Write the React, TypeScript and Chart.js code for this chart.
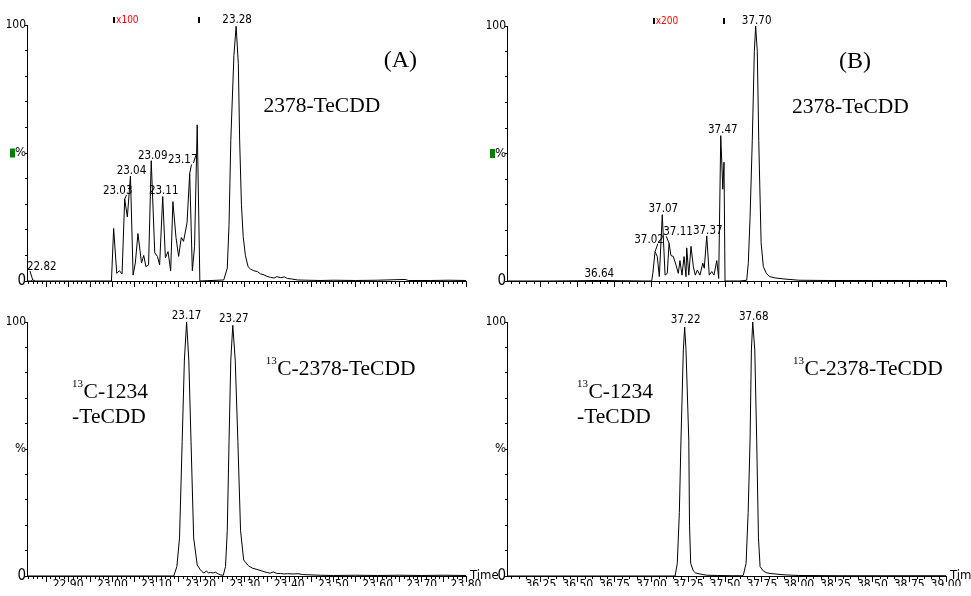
import React, { useEffect, useRef } from 'react';
import { Chart, registerables } from 'chart.js';

Chart.register(...registerables);

// ---------------- DATA ----------------
// Panel (A), upper trace: 2378-TeCDD (window 23.00-23.20 magnified x100)
const timeA1 = [22.807, 22.816, 22.82, 22.826, 22.9, 22.95, 22.998, 23.003, 23.01, 23.016, 23.022, 23.028, 23.034, 23.041, 23.047, 23.052, 23.058, 23.066, 23.071, 23.076, 23.082, 23.088, 23.096, 23.102, 23.107, 23.114, 23.12, 23.126, 23.132, 23.137, 23.144, 23.15, 23.156, 23.161, 23.169, 23.175, 23.181, 23.186, 23.192, 23.198, 23.252, 23.26, 23.264, 23.268, 23.275, 23.28, 23.285, 23.288, 23.292, 23.296, 23.301, 23.307, 23.313, 23.32, 23.328, 23.335, 23.343, 23.35, 23.358, 23.366, 23.372, 23.381, 23.389, 23.396, 23.405, 23.419, 23.44, 23.47, 23.5, 23.55, 23.6, 23.662, 23.67, 23.72, 23.76, 23.8];
const pctA1 = [0, 0, 0.4, 0, 0, 0, 0, 20.5, 3, 4, 2.7, 32, 25, 41, 2.3, 7, 18.5, 7, 10, 5.6, 6.3, 47, 11, 9.6, 6.3, 33, 9, 11.5, 4, 31, 17, 9.6, 17, 15.5, 22.7, 42, 4, 13.5, 61, 0, 0.4, 5, 22, 55, 88, 99.5, 85, 55, 30, 17.4, 10, 5.6, 4.6, 4, 3.7, 2.8, 2.4, 1.8, 1.4, 1.2, 1.7, 1.3, 1.6, 1.0, 0.8, 0.4, 0.3, 0.2, 0.3, 0.2, 0.3, 0.6, 0.2, 0.2, 0.3, 0.2];

// Panel (A), lower trace: 13C-1234-TeCDD and 13C-2378-TeCDD
const timeA2 = [22.807, 22.9, 23.0, 23.1, 23.139, 23.146, 23.152, 23.158, 23.163, 23.168, 23.173, 23.178, 23.184, 23.192, 23.199, 23.203, 23.207, 23.213, 23.217, 23.222, 23.228, 23.233, 23.24, 23.245, 23.251, 23.256, 23.26, 23.264, 23.268, 23.2725, 23.278, 23.284, 23.29, 23.297, 23.308, 23.318, 23.327, 23.338, 23.345, 23.35, 23.357, 23.364, 23.372, 23.38, 23.388, 23.396, 23.41, 23.42, 23.43, 23.44, 23.47, 23.5, 23.55, 23.6, 23.65, 23.7, 23.75, 23.8];
const pctA2 = [0, 0, 0, 0, 0, 3.7, 15, 53, 85, 100, 85, 53, 15, 4.3, 2.5, 1.7, 1.2, 2.0, 1.2, 1.4, 1.2, 1.5, 0.8, 0.4, 0.3, 3.7, 18, 53, 85, 98.7, 85, 53, 18, 6.3, 4, 3, 2.6, 2, 1.6, 1.4, 1.1, 1.6, 1.0, 1.0, 0.8, 0.9, 0.8, 0.9, 0.6, 0.5, 0.3, 0.2, 0.3, 0.2, 0.3, 0.2, 0.3, 0.2];

// Panel (B), upper trace: 2378-TeCDD (window 37.02-37.50 magnified x200)
const timeB1 = [36.02, 36.3, 36.5, 36.64, 36.8, 36.95, 37.002, 37.01, 37.025, 37.04, 37.054, 37.074, 37.093, 37.108, 37.12, 37.133, 37.149, 37.167, 37.183, 37.194, 37.208, 37.222, 37.235, 37.24, 37.254, 37.269, 37.285, 37.298, 37.312, 37.33, 37.349, 37.359, 37.376, 37.393, 37.41, 37.425, 37.444, 37.457, 37.471, 37.485, 37.493, 37.5, 37.6, 37.647, 37.658, 37.67, 37.685, 37.699, 37.708, 37.719, 37.729, 37.745, 37.76, 37.778, 37.79, 37.805, 37.84, 37.873, 37.9, 37.941, 38.0, 38.2, 38.5, 38.8, 39.0];
const pctB1 = [0, 0, 0.1, 0.2, 0.1, 0, 0, 3, 11.5, 9.6, 1.7, 26, 2.3, 3, 14.8, 10, 9.6, 6.3, 3, 8, 2.3, 9.6, 1.7, 13, 2.3, 13.6, 5.6, 2.3, 4.3, 2.3, 7, 5, 17.7, 2.3, 3.7, 2.3, 8, 1, 57, 36, 46.6, 0, 0, 0.3, 7, 25, 55, 90, 100, 90, 55, 15, 5.6, 3.3, 2.4, 1.7, 1.2, 1.0, 0.8, 0.6, 0.3, 0.2, 0.2, 0.2, 0.2];

// Panel (B), lower trace: 13C-1234-TeCDD and 13C-2378-TeCDD
const timeB2 = [36.02, 36.5, 37.0, 37.161, 37.176, 37.19, 37.201, 37.217, 37.226, 37.235, 37.254, 37.259, 37.267, 37.285, 37.3, 37.33, 37.376, 37.45, 37.55, 37.613, 37.624, 37.643, 37.657, 37.67, 37.679, 37.688, 37.702, 37.715, 37.727, 37.738, 37.76, 37.78, 37.805, 37.84, 37.873, 37.919, 38.0, 38.3, 38.6, 39.0];
const pctB2 = [0, 0, 0, 0, 5, 25, 53.5, 89, 98, 89, 53.5, 20, 5, 2, 1.2, 0.8, 0.3, 0.2, 0.1, 0.1, 0.3, 5, 25, 53.5, 89, 100, 89, 53.5, 15, 3.7, 2, 1.3, 1, 0.8, 0.6, 0.4, 0.2, 0.1, 0.1, 0.1];

// Peak labels (retention times)
const peaksA1 = [22.82, 23.03, 23.04, 23.09, 23.11, 23.17, 23.28];
const peaksA2 = [23.17, 23.27];
const peaksB1 = [36.64, 37.02, 37.07, 37.11, 37.37, 37.47, 37.70];
const peaksB2 = [37.22, 37.68];

// X tick labels
const xLabelsA = ['22.90', '23.00', '23.10', '23.20', '23.30', '23.40', '23.50', '23.60', '23.70', '23.80'];
const xLabelsB = ['36.25', '36.50', '36.75', '37.00', '37.25', '37.50', '37.75', '38.00', '38.25', '38.50', '38.75', '39.00'];

// Magnification windows
const magA = [23.004, 23.196];
const magLabelA = 'x100';
const magB = [37.016, 37.495];
const magLabelB = 'x200';

// ---------------- LAYOUT / STYLE ----------------
const W = 971;
const H = 596;
const YW = 20;
const XH = 10;
const NARROW = '"Liberation Sans Narrow", "Arial Narrow", "DejaVu Sans Condensed", Arial, sans-serif';
const SERIF = '"Liberation Serif", "Times New Roman", serif';

type Txt = { text: string; t: number; v: number; size: number; sup?: string };
type Panel = {
  key: string;
  times: number[];
  pct: number[];
  area: [number, number, number, number];
  xMin: number;
  xMax: number;
  major: number;
  minor: number;
  labels: string[] | null;
  peaks: number[];
  peakOffsets: [number, number, boolean][];
  mag: number[] | null;
  magLabel: string;
  texts: Txt[];
  top: boolean;
};

const panels: Panel[] = [
  {
    key: 'A1', times: timeA1, pct: pctA1, area: [27, 25, 466, 281], xMin: 22.807, xMax: 23.8,
    major: 0.05, minor: 0.01, labels: null, peaks: peaksA1,
    peakOffsets: [[9, -10, true], [-7, -5, true], [1, -2, false], [1.5, -2, false], [1, -3, false], [-7, -10, true], [1, -3, false]],
    mag: magA, magLabel: magLabelA, top: true,
    texts: [
      { text: '(A)', t: 23.614, v: 83.4, size: 24 },
      { text: '2378-TeCDD', t: 23.342, v: 66, size: 21.5 },
    ],
  },
  {
    key: 'A2', times: timeA2, pct: pctA2, area: [27, 322, 466, 576], xMin: 22.807, xMax: 23.8,
    major: 0.05, minor: 0.01, labels: xLabelsA, peaks: peaksA2,
    peakOffsets: [[0, -3, false], [1, -3, false]],
    mag: null, magLabel: '', top: false,
    texts: [
      { sup: '13', text: 'C-2378-TeCDD', t: 23.347, v: 79.1, size: 21.5 },
      { sup: '13', text: 'C-1234', t: 22.909, v: 70.1, size: 21.5 },
      { text: '-TeCDD', t: 22.909, v: 60.2, size: 21.5 },
    ],
  },
  {
    key: 'B1', times: timeB1, pct: pctB1, area: [507, 26, 946, 281], xMin: 36.02, xMax: 39.0,
    major: 0.25, minor: 0.05, labels: null, peaks: peaksB1,
    peakOffsets: [[1, -3, false], [-6, -9, true], [1, -3, false], [9, -8, true], [1, -2, false], [2, -3, false], [1, -2, false]],
    mag: magB, magLabel: magLabelB, top: true,
    texts: [
      { text: '(B)', t: 38.274, v: 83.4, size: 24 },
      { text: '2378-TeCDD', t: 37.955, v: 66, size: 21.5 },
    ],
  },
  {
    key: 'B2', times: timeB2, pct: pctB2, area: [507, 322, 946, 576], xMin: 36.02, xMax: 39.0,
    major: 0.25, minor: 0.05, labels: xLabelsB, peaks: peaksB2,
    peakOffsets: [[1, -4, false], [1, -2, false]],
    mag: null, magLabel: '', top: false,
    texts: [
      { sup: '13', text: 'C-2378-TeCDD', t: 37.962, v: 79.1, size: 21.5 },
      { sup: '13', text: 'C-1234', t: 36.495, v: 70.1, size: 21.5 },
      { text: '-TeCDD', t: 36.495, v: 60.2, size: 21.5 },
    ],
  },
];

function stepValues(min: number, max: number, step: number): number[] {
  const out: number[] = [];
  const n0 = Math.ceil(min / step - 1e-6);
  const n1 = Math.floor(max / step + 1e-6);
  for (let n = n0; n <= n1; n++) out.push(Math.round(n * step * 1e6) / 1e6);
  return out;
}

function makeDecor(p: Panel) {
  return {
    id: 'decor' + p.key,
    afterDraw(chart: any) {
      const ctx: CanvasRenderingContext2D = chart.ctx;
      const xs = chart.scales.x;
      const ys = chart.scales.y;
      const a = chart.chartArea;
      ctx.save();
      // minor x ticks
      ctx.strokeStyle = '#000';
      ctx.lineWidth = 1;
      ctx.beginPath();
      stepValues(p.xMin, p.xMax, p.minor).forEach((v) => {
        const r = v / p.major;
        if (Math.abs(r - Math.round(r)) < 1e-6) return;
        const x = Math.round(xs.getPixelForValue(v)) + 0.5;
        ctx.moveTo(x, a.bottom);
        ctx.lineTo(x, a.bottom + 3);
      });
      ctx.stroke();

      // peak labels
      ctx.font = `11.5px ${NARROW}`;
      ctx.fillStyle = '#000';
      ctx.textAlign = 'center';
      ctx.textBaseline = 'alphabetic';
      p.peaks.forEach((lt, i) => {
        const [dx, dy, leader] = p.peakOffsets[i];
        const lx = xs.getPixelForValue(lt);
        let best = -1;
        let bi = 0;
        p.times.forEach((t, j) => {
          const px = xs.getPixelForValue(t);
          if (Math.abs(px - lx) <= 3 && p.pct[j] > best) {
            best = p.pct[j];
            bi = j;
          }
        });
        const ax = xs.getPixelForValue(p.times[bi]);
        const ay = ys.getPixelForValue(p.pct[bi]);
        const tx = ax + dx;
        const ty = ay + dy;
        const text = lt.toFixed(2);
        ctx.fillText(text, tx, ty);
        if (leader) {
          const w = ctx.measureText(text).width;
          const ex = dx < 0 ? tx + w / 2 - 6 : tx - w / 2 + 3;
          ctx.beginPath();
          ctx.moveTo(ex, ty + 1);
          ctx.lineTo(ax, ay);
          ctx.stroke();
        }
      });

      // magnification markers
      if (p.mag) {
        ctx.fillStyle = '#000';
        p.mag.forEach((t) => {
          const x = xs.getPixelForValue(t);
          ctx.fillRect(Math.round(x) - 1, a.top - 8, 2, 6);
        });
        ctx.fillStyle = '#ff0000';
        ctx.font = `10px ${NARROW}`;
        ctx.textAlign = 'left';
        ctx.textBaseline = 'middle';
        ctx.fillText(p.magLabel, xs.getPixelForValue(p.mag[0]) + 2, a.top - 5);
      }

      // green marker by the % label
      if (p.top) {
        ctx.fillStyle = '#008000';
        ctx.fillRect(a.left - 17, ys.getPixelForValue(50) - 4.5, 5, 9);
      } else {
        ctx.fillStyle = '#000';
        ctx.font = `13px ${NARROW}`;
        ctx.textAlign = 'left';
        ctx.textBaseline = 'middle';
        ctx.fillText('Time', a.right + 4, a.bottom);
      }

      // compound annotations
      ctx.fillStyle = '#000';
      ctx.textAlign = 'left';
      ctx.textBaseline = 'alphabetic';
      p.texts.forEach((tx) => {
        let x = xs.getPixelForValue(tx.t);
        const y = ys.getPixelForValue(tx.v);
        if (tx.sup) {
          ctx.font = `11px ${SERIF}`;
          ctx.fillText(tx.sup, x, y - 11);
          x += ctx.measureText(tx.sup).width + 0.5;
        }
        ctx.font = `${tx.size}px ${SERIF}`;
        ctx.fillText(tx.text, x, y);
      });
      ctx.restore();
    },
  };
}

function PanelChart({ p }: { p: Panel }) {
  const ref = useRef<HTMLCanvasElement>(null);
  useEffect(() => {
    if (!ref.current) return;
    const [L, T, R, B] = p.area;
    const majors = stepValues(p.xMin, p.xMax, p.major);
    const yTicks = stepValues(0, 100, 10);
    const chart = new Chart(ref.current, {
      type: 'line',
      data: {
        datasets: [
          {
            data: p.times.map((t, i) => ({ x: t, y: p.pct[i] })),
            borderColor: '#000',
            borderWidth: 1,
            pointRadius: 0,
            tension: 0,
            fill: false,
          },
        ],
      },
      options: {
        responsive: false,
        animation: false,
        devicePixelRatio: 1,
        events: [],
        layout: { padding: { left: L - YW, top: T, right: W - R, bottom: H - B - XH } },
        plugins: { legend: { display: false }, tooltip: { enabled: false } },
        scales: {
          x: {
            type: 'linear',
            min: p.xMin,
            max: p.xMax,
            afterBuildTicks: (s: any) => {
              s.ticks = majors.map((v) => ({ value: v }));
            },
            afterFit: (s: any) => {
              s.height = XH;
            },
            grid: { drawOnChartArea: false, drawTicks: true, tickLength: 6, color: '#000', lineWidth: 1 },
            border: { display: true, color: '#000', width: 1 },
            ticks: {
              autoSkip: false,
              maxRotation: 0,
              minRotation: 0,
              padding: -4,
              color: '#000',
              font: { family: NARROW, size: 12 },
              callback: (v: any) => {
                if (!p.labels) return '';
                const hit = p.labels.find((l) => Math.abs(parseFloat(l) - Number(v)) < 1e-6);
                return hit || '';
              },
            },
          },
          y: {
            type: 'linear',
            min: 0,
            max: 100,
            afterBuildTicks: (s: any) => {
              s.ticks = yTicks.map((v) => ({ value: v }));
            },
            afterFit: (s: any) => {
              s.width = YW;
            },
            grid: { drawOnChartArea: false, drawTicks: true, tickLength: 2, color: '#000', lineWidth: 1 },
            border: { display: true, color: '#000', width: 1 },
            ticks: {
              padding: -1,
              color: '#000',
              font: (c: any) => {
                const v = c.tick ? c.tick.value : -1;
                return { family: NARROW, size: v === 0 ? 15 : v === 50 ? 13 : 12 };
              },
              callback: (v: any) => (v === 100 ? '100' : v === 50 ? '%' : v === 0 ? '0' : ''),
            },
          },
        },
      },
      plugins: [makeDecor(p)],
    } as any);
    return () => chart.destroy();
  }, [p]);
  return (
    <canvas
      ref={ref}
      width={W}
      height={H}
      style={{ position: 'absolute', left: 0, top: 0, width: W, height: H }}
    />
  );
}

export default function App() {
  return (
    <div style={{ position: 'absolute', left: 0, top: 0, width: W, height: H, background: '#fff' }}>
      {panels.map((p) => (
        <PanelChart key={p.key} p={p} />
      ))}
    </div>
  );
}
